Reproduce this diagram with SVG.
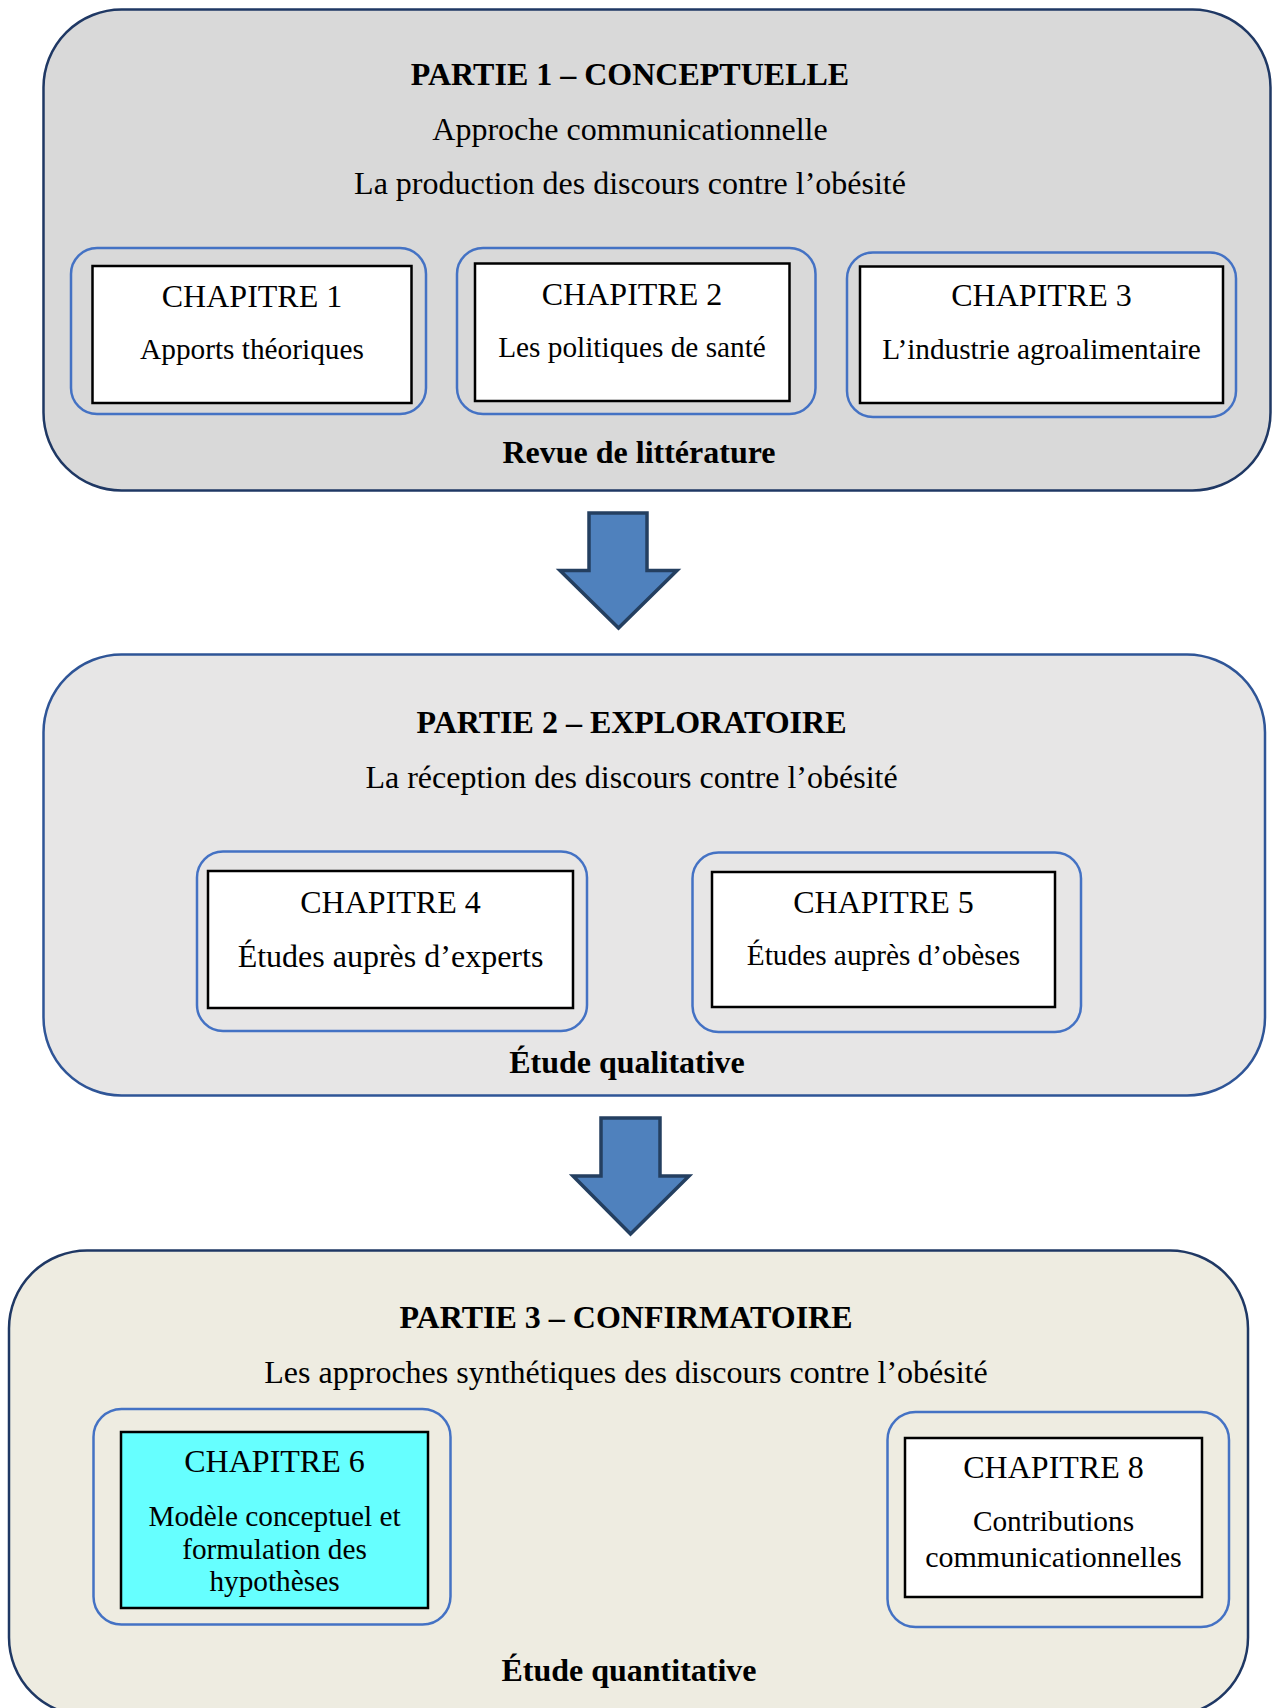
<svg xmlns="http://www.w3.org/2000/svg" width="1274" height="1708" viewBox="0 0 1274 1708">
<style>
text{font-family:"Liberation Serif","Times New Roman",serif;fill:#000;text-anchor:middle}
.b{font-weight:bold;font-size:32px}
.t{font-size:32px}
.h{font-size:32px}
.s{font-size:29.3px}
.grp{fill:none;stroke:#4472c4;stroke-width:2.5}
.box{fill:#fff;stroke:#000;stroke-width:2.5}
.arr{fill:#4f81bd;stroke:#243f60;stroke-width:3.5;stroke-linejoin:miter}
</style>
<rect width="1274" height="1708" fill="#fff"/>

<g id="partie1">
<rect x="43.5" y="9.5" width="1227" height="481" rx="78" ry="78" fill="#d9d9d9" stroke="#1f3864" stroke-width="2.5"/>
<text class="b" x="630" y="85">PARTIE 1 – CONCEPTUELLE</text>
<text class="t" x="630" y="140">Approche communicationnelle</text>
<text class="t" x="630" y="194">La production des discours contre l’obésité</text>
<text class="b" x="639" y="463">Revue de littérature</text>
</g>
<g id="ch1">
<rect class="grp" x="71" y="248" width="355" height="166" rx="26"/>
<rect class="box" x="92.5" y="266" width="319" height="137"/>
<text class="h" x="252" y="307">CHAPITRE 1</text>
<text class="s" x="252" y="359">Apports théoriques</text>
</g>
<g id="ch2">
<rect class="grp" x="457" y="248" width="358.5" height="166" rx="26"/>
<rect class="box" x="475" y="263.5" width="314.5" height="137.5"/>
<text class="h" x="632" y="305">CHAPITRE 2</text>
<text class="s" x="632" y="357">Les politiques de santé</text>
</g>
<g id="ch3">
<rect class="grp" x="847" y="252.5" width="389" height="164.5" rx="26"/>
<rect class="box" x="860" y="266.5" width="363" height="136.5"/>
<text class="h" x="1041.5" y="306">CHAPITRE 3</text>
<text class="s" x="1041.5" y="359">L’industrie agroalimentaire</text>
</g>

<g id="partie2">
<rect x="43.5" y="654.5" width="1221.5" height="441" rx="78" ry="78" fill="#e7e6e6" stroke="#2f5597" stroke-width="2.5"/>
<text class="b" x="631.5" y="733">PARTIE 2 – EXPLORATOIRE</text>
<text class="t" x="631.5" y="788">La réception des discours contre l’obésité</text>
<text class="b" x="627" y="1072.5">Étude qualitative</text>
</g>
<g id="ch4">
<rect class="grp" x="197" y="851.5" width="390" height="179.5" rx="26"/>
<rect class="box" x="208" y="871" width="365" height="137"/>
<text class="h" x="390.5" y="912.5">CHAPITRE 4</text>
<text class="t" x="390.5" y="967">Études auprès d’experts</text>
</g>
<g id="ch5">
<rect class="grp" x="692.5" y="852.5" width="388.5" height="179.5" rx="26"/>
<rect class="box" x="712" y="872" width="343" height="135"/>
<text class="h" x="883.5" y="912.5">CHAPITRE 5</text>
<text class="s" x="883.5" y="965">Études auprès d’obèses</text>
</g>

<g id="partie3">
<rect x="9" y="1250.5" width="1239" height="465" rx="78" ry="78" fill="#eeece1" stroke="#1f3864" stroke-width="2.5"/>
<text class="b" x="626" y="1327.5">PARTIE 3 – CONFIRMATOIRE</text>
<text class="t" x="626" y="1383">Les approches synthétiques des discours contre l’obésité</text>
<text class="b" x="629" y="1681">Étude quantitative</text>
</g>
<g id="ch6">
<rect class="grp" x="93.5" y="1409" width="357" height="215.5" rx="28"/>
<rect x="121" y="1432" width="307" height="176" fill="#66ffff" stroke="#000" stroke-width="2.5"/>
<text class="h" x="274.5" y="1472">CHAPITRE 6</text>
<text class="s" x="274.5" y="1525.5">Modèle conceptuel et</text>
<text class="s" x="274.5" y="1559">formulation des</text>
<text class="s" x="274.5" y="1591">hypothèses</text>
</g>
<g id="ch8">
<rect class="grp" x="887.5" y="1412" width="341.5" height="215" rx="28"/>
<rect class="box" x="905" y="1438" width="297" height="159"/>
<text class="h" x="1053.5" y="1477.5">CHAPITRE 8</text>
<text class="s" x="1053.5" y="1531">Contributions</text>
<text class="s" x="1053.5" y="1567" style="font-size:30px">communicationnelles</text>
</g>

<g id="connectors">
<polygon class="arr" points="589,513 647,513 647,570.5 677,570.5 618.5,628 560,570.5 589,570.5"/>
<polygon class="arr" points="601,1118 660,1118 660,1176 689,1176 630.5,1234 573,1176 601,1176"/>
</g>
</svg>
